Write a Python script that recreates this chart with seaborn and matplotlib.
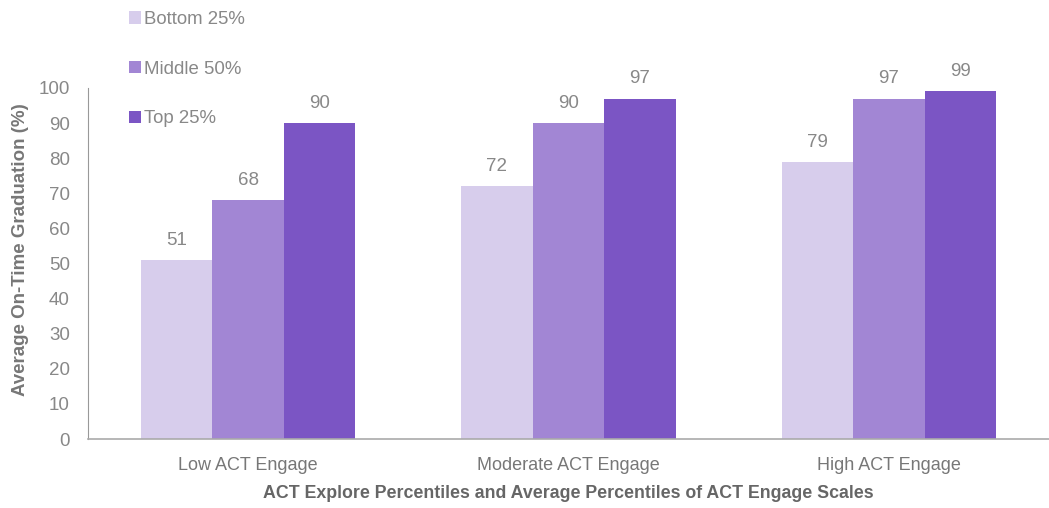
import matplotlib
matplotlib.use("Agg")
import matplotlib.pyplot as plt
import seaborn as sns
import pandas as pd

categories = ["Low ACT Engage", "Moderate ACT Engage", "High ACT Engage"]
groups = ["Bottom 25%", "Middle 50%", "Top 25%"]
bottom25 = [51, 72, 79]
middle50 = [68, 90, 97]
top25 = [90, 97, 99]
colors = ["#D7CDEC", "#A286D4", "#7B55C4"]

rows = []
for g, vals in zip(groups, [bottom25, middle50, top25]):
    for c, v in zip(categories, vals):
        rows.append({"cat": c, "group": g, "value": v})
df = pd.DataFrame(rows)

sns.set_theme(style="white")
plt.rcParams["font.family"] = ["Liberation Sans", "DejaVu Sans"]

fig = plt.figure(figsize=(10.49, 5.08), dpi=100)
ax = fig.add_axes([0.0839, 0.1358, 0.9161, 0.691])
sns.barplot(data=df, x="cat", y="value", hue="group", order=categories,
            hue_order=groups, palette=colors, width=0.67, saturation=1,
            edgecolor="none", linewidth=0, ax=ax, legend=True)

for cont in ax.containers:
    ax.bar_label(cont, fmt="%d", padding=8, fontsize=13.5, color="#888888")

ax.set_ylim(0, 100)
ax.set_xlim(-0.5, 2.5)
ax.set_yticks(range(0, 101, 10))
ax.tick_params(axis="y", labelsize=13.5, labelcolor="#888888", length=0, pad=13)
ax.tick_params(axis="x", labelsize=13, labelcolor="#777777", length=0, pad=13)
ax.set_ylabel("Average On-Time Graduation (%)", fontsize=13.5, fontweight="bold",
              color="#777777")
ax.yaxis.set_label_coords(-0.061, 0.54)
ax.set_xlabel("ACT Explore Percentiles and Average Percentiles of ACT Engage Scales",
              fontsize=12.8, fontweight="bold", color="#666666", labelpad=8)
for s in ["top", "right"]:
    ax.spines[s].set_visible(False)
ax.spines["left"].set_color("#999999")
ax.spines["bottom"].set_color("#aaaaaa")
ax.spines["left"].set_linewidth(0.8)
ax.spines["bottom"].set_linewidth(1.2)

handles, labels = ax.get_legend_handles_labels()
ax.get_legend().remove()
leg = fig.legend(handles, labels, loc="upper left", bbox_to_anchor=(0.112, 1.0),
                 frameon=False, fontsize=13.4, labelspacing=1.75,
                 handlelength=0.65, handleheight=0.65, handletextpad=0.2,
                 borderaxespad=0.2)
for t in leg.get_texts():
    t.set_color("#888888")

fig.savefig("out.png", dpi=100)
